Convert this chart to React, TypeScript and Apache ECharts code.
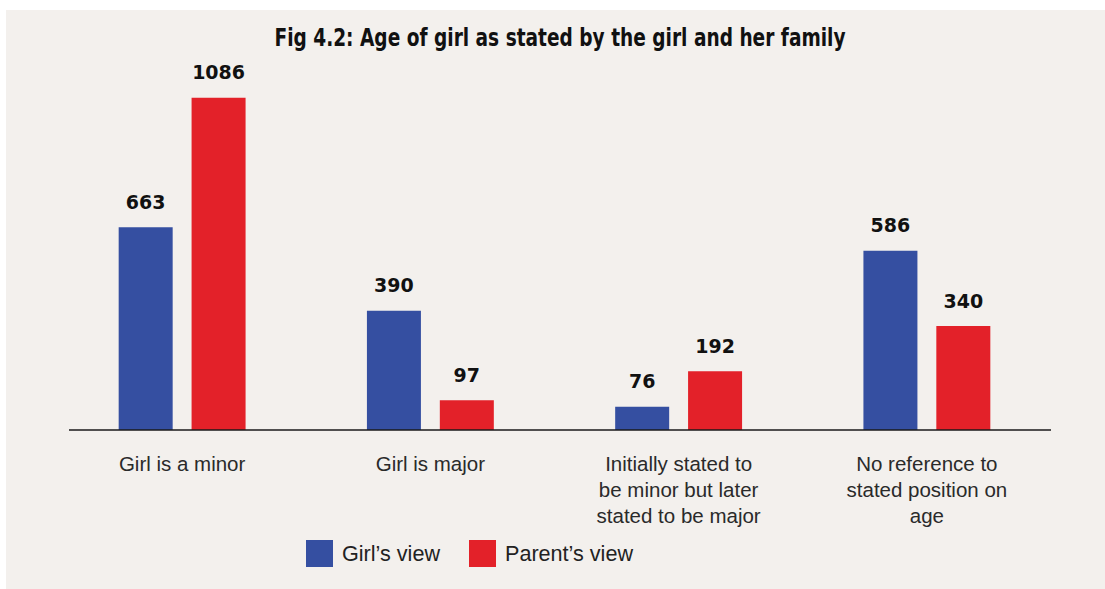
import React, { useEffect, useRef } from "react";
import * as echarts from "echarts";

const categories = [
  "Girl is a minor",
  "Girl is major",
  "Initially stated to\nbe minor but later\nstated to be major",
  "No reference to\nstated position on\nage",
];
const girlsView = [663, 390, 76, 586];
const parentsView = [1086, 97, 192, 340];
const seriesNames = ["Girl\u2019s view", "Parent\u2019s view"];
const title = "Fig 4.2: Age of girl as stated by the girl and her family";

const BLUE = "#354fa1";
const RED = "#e32129";
const BG = "#f3f0ed";

export default function App() {
  const ref = useRef<HTMLDivElement>(null);
  useEffect(() => {
    if (!ref.current) return;
    const chart = echarts.init(ref.current, null, { renderer: "svg" });
    const labelStyle = {
      show: true,
      position: "top",
      distance: 16,
      color: "#111",
      fontSize: 19,
      fontWeight: "bold",
      fontFamily: "DejaVu Sans, Arial, sans-serif",
    };
    chart.setOption({
      animation: false,
      backgroundColor: "#ffffff",
      graphic: [
        {
          type: "rect",
          z: -10,
          silent: true,
          shape: { x: 6, y: 10, width: 1099, height: 579 },
          style: { fill: BG },
        },
        {
          type: "line",
          z: 10,
          silent: true,
          shape: { x1: 69, y1: 430, x2: 1051, y2: 430 },
          style: { stroke: "#1a1a1a", lineWidth: 1.5 },
        },
        {
          type: "text",
          x: 560,
          y: 37,
          scaleX: 0.86,
          silent: true,
          style: {
            text: title,
            textAlign: "center",
            textVerticalAlign: "middle",
            fontFamily: "DejaVu Sans Condensed, DejaVu Sans, sans-serif",
            fontWeight: "bold",
            fontSize: 24,
            fill: "#111",
          },
        },
      ],
      legend: {
        left: 306,
        top: 540,
        padding: 0,
        itemWidth: 27,
        itemHeight: 27,
        itemGap: 29,
        icon: "rect",
        data: seriesNames,
        textStyle: {
          fontSize: 21.6,
          color: "#222",
          fontFamily: "Liberation Sans, Arial, sans-serif",
          padding: [0, 0, 0, 4],
        },
      },
      grid: { left: 58, right: 54, top: 63, bottom: 159, containLabel: false },
      xAxis: {
        type: "category",
        data: categories,
        axisLine: { show: false },
        axisTick: { show: false },
        axisLabel: {
          margin: 20,
          interval: 0,
          fontSize: 20.5,
          lineHeight: 26,
          color: "#2a2a2a",
          fontFamily: "Liberation Sans, Arial, sans-serif",
          verticalAlign: "top",
        },
      },
      yAxis: {
        type: "value",
        min: 0,
        max: 1200,
        show: false,
        splitLine: { show: false },
      },
      series: [
        {
          name: seriesNames[0],
          type: "bar",
          data: girlsView,
          barWidth: 54,
          barGap: "35%",
          itemStyle: { color: BLUE },
          label: labelStyle,
        },
        {
          name: seriesNames[1],
          type: "bar",
          data: parentsView,
          barWidth: 54,
          itemStyle: { color: RED },
          label: labelStyle,
        },
      ],
    });
    return () => chart.dispose();
  }, []);
  return (
    <div
      ref={ref}
      style={{ position: "fixed", left: 0, top: 0, width: 1105, height: 589 }}
    />
  );
}
